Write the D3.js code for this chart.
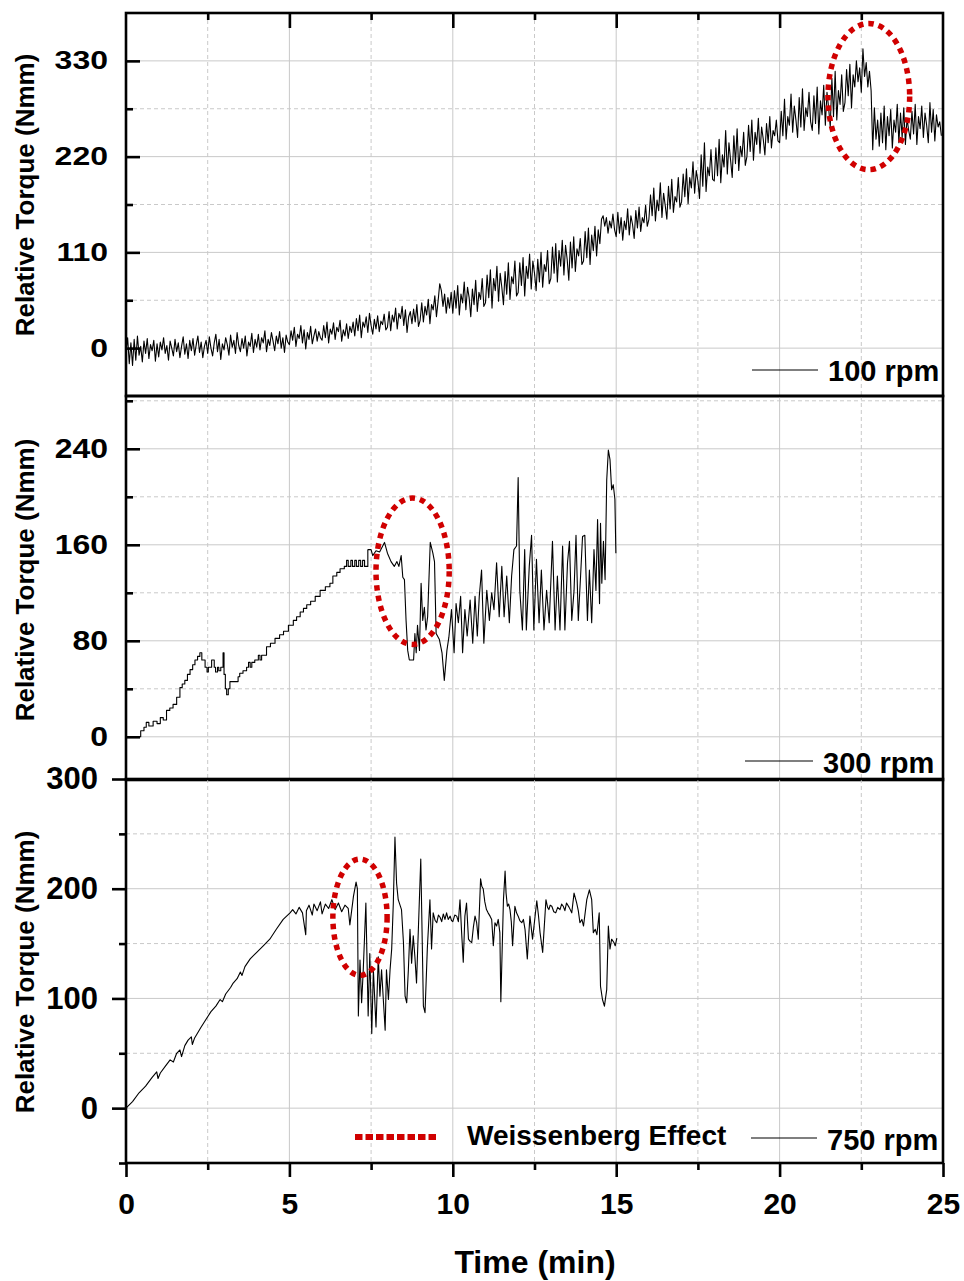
<!DOCTYPE html>
<html>
<head>
<meta charset="utf-8">
<script src="https://cdn.jsdelivr.net/npm/d3@7"></script>
<style>
body { margin: 0; background: #fff; }
text { font-family: "Liberation Sans", Arial, sans-serif; font-weight: bold; fill: #000; }
</style>
</head>
<body>
<div id="chart"></div>
<script>
// ---------------- data ----------------
// 100 rpm : one reading every 0.05 min (one row = one minute)
const step100 = 0.05;
const v100 = [
  -4, 12, -18, 6, -20, 10, -14, 14, -8, 2, -16, 8, -6, 11, -12, 4, -3, 9, -15, 5,
  -10, 7, -2, 12, -6, 3, -14, 8, 0, -9, 10, -4, 6, -11, 2, 13, -7, 5, -12, 9,
  -3, 11, -8, 4, 14, -5, 7, -11, 2, 9, -6, 13, 0, -9, 6, 16, -4, 10, -13, 5,
  -2, 12, 4, -8, 15, 1, 9, -6, 18, 3, -4, 11, 0, 14, -9, 7, 2, 17, -5, 10,
  1, 16, -2, 12, 6, 20, -4, 10, 3, 18, 8, -3, 14, 5, 19, 0, 12, -5, 15, 7,
  4, 20, 9, 24, 2, 16, 11, 26, 6, 21, -1, 18, 10, 25, 5, 14, 22, 8, 19, 12,
  9, 26, 12, 30, 6, 22, 16, 29, 10, 24, 19, 32, 8, 21, 14, 28, 11, 25, 18, 30,
  14, 34, 20, 38, 12, 30, 24, 36, 18, 40, 26, 16, 33, 22, 37, 19, 31, 27, 39, 21,
  24, 42, 20, 38, 30, 46, 22, 40, 34, 48, 26, 44, 18, 36, 42, 28, 45, 30, 50, 25,
  32, 52, 30, 48, 38, 56, 28, 50, 44, 60, 36, 54, 74, 66, 48, 62, 40, 58, 46, 64,
  40, 66, 46, 72, 38, 62, 52, 76, 44, 70, 58, 36, 68, 50, 78, 42, 64, 56, 80, 48,
  52, 84, 58, 90, 46, 80, 66, 94, 54, 86, 70, 50, 88, 62, 98, 56, 82, 74, 100, 60,
  64, 98, 72, 104, 60, 94, 80, 108, 68, 100, 86, 66, 102, 76, 110, 70, 96, 88, 112, 74,
  80, 116, 86, 120, 76, 112, 94, 124, 84, 118, 102, 78, 122, 92, 128, 88, 114, 106, 126, 96,
  100, 134, 104, 138, 96, 130, 112, 140, 106, 136, 120, 148, 152, 140, 150, 132, 146, 138, 154, 136,
  128, 156, 132, 150, 124, 146, 136, 160, 130, 152, 142, 126, 158, 138, 162, 134, 150, 144, 164, 140,
  148, 176, 152, 184, 146, 170, 158, 190, 150, 178, 164, 148, 186, 160, 194, 156, 174, 168, 196, 162,
  168, 200, 174, 206, 166, 196, 184, 214, 178, 204, 192, 172, 222, 186, 236, 180, 208, 198, 228, 194,
  192, 230, 198, 240, 190, 222, 208, 250, 200, 236, 216, 196, 244, 212, 252, 204, 232, 220, 248, 210,
  220, 256, 226, 262, 216, 248, 234, 264, 224, 254, 240, 222, 258, 236, 266, 230, 250, 244, 262, 238,
  236, 272, 244, 286, 240, 266, 256, 292, 248, 278, 262, 242, 288, 254, 298, 250, 276, 266, 294, 260,
  250, 290, 258, 300, 246, 284, 268, 302, 256, 294, 276, 254, 310, 266, 318, 262, 296, 280, 314, 272,
  282, 320, 290, 326, 276, 314, 300, 330, 306, 322, 294, 344, 312, 328, 300, 318, 296, 228, 276, 240,
  262, 232, 270, 236, 278, 228, 266, 244, 274, 230, 262, 248, 280, 236, 270, 242, 276, 234, 264, 250,
  240, 272, 246, 280, 234, 266, 252, 278, 242, 270, 256, 236, 282, 248, 274, 238, 268, 254, 260, 244
];

// 300 rpm : stair-like start (drawn as steps) ...
const ramp300T = [0, 0.45, 0.55, 0.62, 0.7, 0.83, 0.95, 1.05, 1.14, 1.24, 1.34, 1.44, 1.55, 1.65, 1.72, 1.8,
  1.88, 1.96, 2.04, 2.11, 2.19, 2.26, 2.32, 2.42, 2.48, 2.52, 2.62, 2.7, 2.74, 2.8, 2.84, 2.9, 2.97,
  3.0, 3.04, 3.08, 3.13, 3.18, 3.3, 3.43, 3.48, 3.58, 3.69, 3.75, 3.8, 3.85, 3.94, 4.05, 4.1, 4.15,
  4.3, 4.42, 4.56, 4.7, 4.82, 4.97, 5.12, 5.22, 5.33, 5.43, 5.53, 5.65, 5.79, 5.94, 6.1, 6.24, 6.33,
  6.45, 6.55, 6.68, 6.75, 6.8, 6.88, 6.93, 7.0, 7.05, 7.12, 7.18, 7.24, 7.3, 7.4];
const ramp300V = [0, 5, 8, 12, 9, 13, 11, 16, 14, 22, 24, 27, 33, 41, 44, 47,
  52, 56, 60, 64, 67, 70, 64, 58, 54, 58, 64, 58, 54, 58, 55, 58, 70,
  52, 40, 35, 40, 46, 46, 50, 53, 55, 58, 62, 58, 62, 64, 68, 64, 68,
  75, 78, 82, 85, 88, 93, 97, 100, 104, 107, 110, 113, 117, 122, 125, 128, 134,
  137, 140, 142, 147, 142, 147, 142, 147, 142, 147, 142, 147, 142, 156];
// ... then the noisy part (drawn as a plain line)
const tail300T = [7.4, 7.5, 7.55, 7.65, 7.76, 7.91, 8.0, 8.11, 8.21, 8.29, 8.35, 8.42, 8.47, 8.52, 8.57, 8.62,
  8.67, 8.8, 8.84, 8.88, 8.92, 8.98, 9.03, 9.08, 9.13, 9.18, 9.23, 9.31, 9.39, 9.44, 9.49, 9.59, 9.67,
  9.74, 9.82, 9.88, 9.96, 10.04, 10.1, 10.17, 10.24, 10.3, 10.37, 10.44, 10.53, 10.61, 10.68, 10.75,
  10.81, 10.88, 10.95, 11.04, 11.12, 11.19, 11.26, 11.34, 11.42, 11.5, 11.57, 11.65, 11.73, 11.8,
  11.87, 11.95, 12.0, 12.05, 12.13, 12.2, 12.25, 12.34, 12.41, 12.48, 12.56, 12.64, 12.71, 12.79,
  12.87, 12.95, 13.05, 13.13, 13.2, 13.28, 13.36, 13.43, 13.51, 13.57, 13.64, 13.71, 13.77, 13.84,
  13.91, 13.97, 14.04, 14.12, 14.18, 14.25, 14.32, 14.38, 14.43, 14.49, 14.52, 14.56, 14.61, 14.66,
  14.71, 14.76, 14.81, 14.86, 14.91, 14.96, 14.99];
const tail300V = [156, 156, 151, 155, 154, 162, 153, 146, 142, 146, 142, 151, 133, 131, 97, 72,
  64, 64, 86, 70, 93, 72, 128, 97, 108, 89, 100, 162, 153, 146, 86, 81, 70,
  47, 72, 83, 106, 70, 111, 95, 117, 70, 106, 84, 114, 78, 117, 84,
  117, 139, 78, 122, 97, 120, 106, 145, 100, 142, 100, 134, 95, 134,
  156, 159, 216, 122, 89, 156, 89, 142, 168, 89, 148, 95, 139, 89,
  122, 95, 163, 89, 134, 89, 159, 89, 145, 163, 97, 122, 168, 97,
  134, 167, 168, 97, 139, 95, 156, 122, 181, 111, 178, 128, 163, 131,
  214, 239, 231, 206, 210, 198, 153];

// 750 rpm
const t750 = [0, 0.2, 0.4, 0.6, 0.8, 0.94, 0.98, 1.05, 1.2, 1.35, 1.45, 1.55, 1.65, 1.7, 1.8, 1.9, 2.0, 2.03,
  2.1, 2.3, 2.47, 2.6, 2.75, 2.88, 2.95, 3.05, 3.2, 3.28, 3.4, 3.5, 3.55, 3.64, 3.8, 4.0, 4.2, 4.4, 4.6,
  4.81, 5.02, 5.1, 5.2, 5.3, 5.4, 5.5, 5.52, 5.6, 5.7, 5.75, 5.85, 5.95, 6.0, 6.1, 6.2, 6.3, 6.4, 6.5,
  6.6, 6.7, 6.8, 6.85, 6.96, 7.04, 7.08, 7.11, 7.16, 7.21, 7.26, 7.34, 7.41, 7.46, 7.52, 7.57, 7.65,
  7.72, 7.77, 7.82, 7.93, 7.97, 8.03, 8.08, 8.13, 8.18, 8.23, 8.28, 8.33, 8.43, 8.49, 8.54, 8.59, 8.64,
  8.69, 8.74, 8.79, 8.84, 8.89, 9.02, 9.1, 9.15, 9.22, 9.3, 9.35, 9.4, 9.46, 9.51, 9.56, 9.61, 9.66,
  9.71, 9.76, 9.81, 9.86, 9.92, 9.96, 10.0, 10.06, 10.12, 10.17, 10.22, 10.27, 10.32, 10.37, 10.42,
  10.48, 10.53, 10.58, 10.63, 10.68, 10.73, 10.78, 10.85, 10.89, 10.93, 10.98, 11.03, 11.08, 11.14,
  11.19, 11.24, 11.29, 11.34, 11.39, 11.44, 11.47, 11.55, 11.6, 11.63, 11.67, 11.71, 11.75, 11.79,
  11.83, 11.9, 11.95, 12.0, 12.05, 12.11, 12.16, 12.21, 12.28, 12.36, 12.44, 12.5, 12.57, 12.62,
  12.67, 12.75, 12.85, 12.9, 12.94, 12.98, 13.03, 13.09, 13.15, 13.21, 13.28, 13.33, 13.38, 13.43,
  13.48, 13.56, 13.64, 13.71, 13.79, 13.84, 13.89, 13.95, 14.0, 14.05, 14.1, 14.18, 14.25, 14.3,
  14.36, 14.41, 14.48, 14.52, 14.58, 14.64, 14.71, 14.76, 14.81, 14.86, 14.93, 14.97, 15.02];
const v750 = [0, 6, 14, 20, 28, 33, 27, 32, 38, 44, 42, 50, 53, 47, 57, 62, 65, 58,
  64, 74, 82, 88, 93, 99, 97, 104, 110, 114, 118, 124, 121, 129, 136, 142, 148, 154, 163,
  172, 178, 181, 177, 183, 178, 158, 180, 185, 176, 186, 180, 188, 177, 186, 182, 190, 181, 187,
  179, 185, 182, 167, 193, 206, 200, 84, 135, 96, 126, 187, 84, 141, 68, 126, 74,
  138, 102, 126, 71, 126, 99, 126, 145, 187, 247, 205, 190, 181, 151, 102, 96, 126,
  163, 132, 157, 138, 114, 227, 93, 87, 145, 190, 145, 178, 171, 169, 176, 174, 170,
  177, 172, 178, 172, 175, 171, 170, 176, 175, 170, 190, 160, 133, 175, 187,
  154, 152, 151, 165, 175, 169, 154, 209, 202, 200, 188, 181, 178, 175,
  172, 148, 169, 166, 172, 160, 97, 190, 216, 196, 184, 186, 181, 170,
  148, 184, 178, 175, 171, 169, 172, 163, 136, 175, 154, 170, 189, 176,
  160, 142, 190, 183, 181, 185, 184, 179, 178, 183, 181, 186, 184, 180,
  187, 183, 178, 196, 187, 180, 169, 172, 166, 178, 190, 199, 190, 160,
  163, 158, 178, 111, 99, 93, 108, 166, 145, 154, 151, 148, 155];

// Weissenberg effect regions (centre and half-widths, in data units)
const ring100 = { t: 22.73, v: 289, dt: 1.25, dv: 84 };
const ring300 = { t: 8.77, v: 138, dt: 1.12, dv: 61 };
const ring750 = { t: 7.16, v: 174, dt: 0.83, dv: 53 };

// axis ticks
const xMajor = [0, 5, 10, 15, 20, 25];
const xMinor = [2.5, 7.5, 12.5, 17.5, 22.5];
const yMajor100 = [0, 110, 220, 330];
const yMinor100 = [55, 165, 275];
const yMajor300 = [0, 80, 160, 240];
const yMinor300 = [40, 120, 200, 280];
const yMajor750 = [0, 100, 200, 300];
const yMinor750 = [-50, 50, 150, 250];

// ---------------- drawing ----------------
const W = 964, H = 1281;
const svg = d3.select("#chart").append("svg").attr("width", W).attr("height", H);

const x = d3.scaleLinear().domain([0, 25]).range([126, 943]);
const RED = "#d00000";
const GRID = "#c9c9c9";

const panels = [
  { y: d3.scaleLinear().domain([-55, 385]).range([396, 13]), major: yMajor100, minor: yMinor100,
    inward: true, lab: 32, labSy: 0.79, pad: 18, ring: ring100, legend: "100 rpm",
    lx: [752, 818], ly: 370, tx: 828, tb: 381, titleY: 195 },
  { y: d3.scaleLinear().domain([-36, 284]).range([780, 396]), major: yMajor300, minor: yMinor300,
    inward: true, lab: 32, labSy: 0.88, pad: 18, ring: ring300, legend: "300 rpm",
    lx: [745, 813], ly: 761, tx: 823, tb: 773, titleY: 580 },
  { y: d3.scaleLinear().domain([-50, 300]).range([1163, 779]), major: yMajor750, minor: yMinor750,
    inward: false, lab: 31, labSy: 1, pad: 14, ring: ring750, legend: "750 rpm",
    lx: [751, 817], ly: 1138, tx: 827, tb: 1150, titleY: 972 }
];

const lineOf = (y, curve) => d3.line().x(d => x(d[0])).y(d => y(d[1])).curve(curve || d3.curveLinear);

panels.forEach(function(p, i) {
  const y = p.y;
  const top = y.range()[1], bot = y.range()[0];
  const g = svg.append("g");

  // grid
  const grid = g.append("g").attr("stroke", GRID).attr("stroke-width", 1).attr("fill", "none");
  p.major.filter(v => y(v) > top + 1 && y(v) < bot - 1).forEach(v =>
    grid.append("line").attr("x1", x(0)).attr("x2", x(25)).attr("y1", y(v)).attr("y2", y(v)));
  p.minor.filter(v => y(v) > top + 1 && y(v) < bot - 1).forEach(v =>
    grid.append("line").attr("x1", x(0)).attr("x2", x(25)).attr("y1", y(v)).attr("y2", y(v))
      .attr("stroke-dasharray", "4,3"));
  xMajor.slice(1, -1).forEach(t =>
    grid.append("line").attr("x1", x(t)).attr("x2", x(t)).attr("y1", top).attr("y2", bot));
  xMinor.forEach(t =>
    grid.append("line").attr("x1", x(t)).attr("x2", x(t)).attr("y1", top).attr("y2", bot)
      .attr("stroke-dasharray", "4,3"));

  // data
  const line = g.append("g").attr("fill", "none").attr("stroke", "#000").attr("stroke-width", 1.1)
    .attr("stroke-linejoin", "round");
  if (i === 0) {
    line.append("path").attr("d", lineOf(y)(v100.map((v, k) => [k * step100, v])));
  } else if (i === 1) {
    line.append("path").attr("d", lineOf(y, d3.curveStepAfter)(ramp300T.map((t, k) => [t, ramp300V[k]])));
    line.append("path").attr("d", lineOf(y)(tail300T.map((t, k) => [t, tail300V[k]])));
  } else {
    line.append("path").attr("d", lineOf(y)(t750.map((t, k) => [t, v750[k]])));
  }

  // Weissenberg ellipse
  const r = p.ring;
  g.append("ellipse")
    .attr("cx", x(r.t)).attr("cy", y(r.v))
    .attr("rx", x(r.t + r.dt) - x(r.t)).attr("ry", y(r.v - r.dv) - y(r.v))
    .attr("fill", "none").attr("stroke", RED).attr("stroke-width", 5.5)
    .attr("stroke-dasharray", "5.5,5");

  // frame
  g.append("rect").attr("x", x(0)).attr("y", top).attr("width", x(25) - x(0)).attr("height", bot - top)
    .attr("fill", "none").attr("stroke", "#000").attr("stroke-width", 2.6);

  // y axis
  const sgn = p.inward ? -1 : 1;
  const ay = g.append("g").attr("transform", `translate(${x(0)},0)`)
    .call(d3.axisLeft(y).tickValues(p.major).tickSize(14 * sgn).tickPadding(p.pad).tickFormat(d3.format("d")));
  ay.select(".domain").remove();
  ay.selectAll(".tick line").attr("stroke", "#000").attr("stroke-width", 2.6);
  ay.selectAll(".tick text").style("font-size", p.lab + "px")
    .attr("transform", `scale(1,${p.labSy})`);
  const ayMin = g.append("g").attr("transform", `translate(${x(0)},0)`)
    .call(d3.axisLeft(y).tickValues(p.minor).tickSize(7 * sgn).tickFormat(""));
  ayMin.select(".domain").remove();
  ayMin.selectAll(".tick line").attr("stroke", "#000").attr("stroke-width", 2.6);

  // y title
  g.append("text")
    .attr("transform", `translate(34,${p.titleY}) rotate(-90)`)
    .attr("text-anchor", "middle").style("font-size", "26px")
    .text("Relative Torque (Nmm)");

  // legend
  g.append("line").attr("x1", p.lx[0]).attr("x2", p.lx[1]).attr("y1", p.ly).attr("y2", p.ly)
    .attr("stroke", "#000").attr("stroke-width", 1.1);
  g.append("text").attr("x", p.tx).attr("y", p.tb).style("font-size", "29px").text(p.legend);
});

// top ticks of the first panel
const topAx = svg.append("g").attr("transform", `translate(0,${panels[0].y.range()[1]})`)
  .call(d3.axisTop(x).tickValues(xMajor.slice(1, -1)).tickSize(-15).tickFormat(""));
const topMin = svg.append("g").attr("transform", `translate(0,${panels[0].y.range()[1]})`)
  .call(d3.axisTop(x).tickValues(xMinor).tickSize(-7).tickFormat(""));
[topAx, topMin].forEach(a => {
  a.select(".domain").remove();
  a.selectAll(".tick line").attr("stroke", "#000").attr("stroke-width", 2.6);
});

// bottom x axis
const yB = panels[2].y.range()[0];
const bx = svg.append("g").attr("transform", `translate(0,${yB})`)
  .call(d3.axisBottom(x).tickValues(xMajor).tickSize(14).tickPadding(16));
bx.select(".domain").remove();
bx.selectAll(".tick line").attr("stroke", "#000").attr("stroke-width", 2.6);
bx.selectAll(".tick text").style("font-size", "30px");
const bxMin = svg.append("g").attr("transform", `translate(0,${yB})`)
  .call(d3.axisBottom(x).tickValues(xMinor).tickSize(7).tickFormat(""));
bxMin.select(".domain").remove();
bxMin.selectAll(".tick line").attr("stroke", "#000").attr("stroke-width", 2.6);

svg.append("text").attr("x", 535).attr("y", 1273).attr("text-anchor", "middle")
  .style("font-size", "32px").text("Time (min)");

// Weissenberg legend entry
svg.append("line").attr("x1", 355).attr("x2", 438).attr("y1", 1137).attr("y2", 1137)
  .attr("stroke", RED).attr("stroke-width", 6).attr("stroke-dasharray", "7.5,3");
svg.append("text").attr("x", 467).attr("y", 1145).style("font-size", "28px").text("Weissenberg Effect");
</script>
</body>
</html>
